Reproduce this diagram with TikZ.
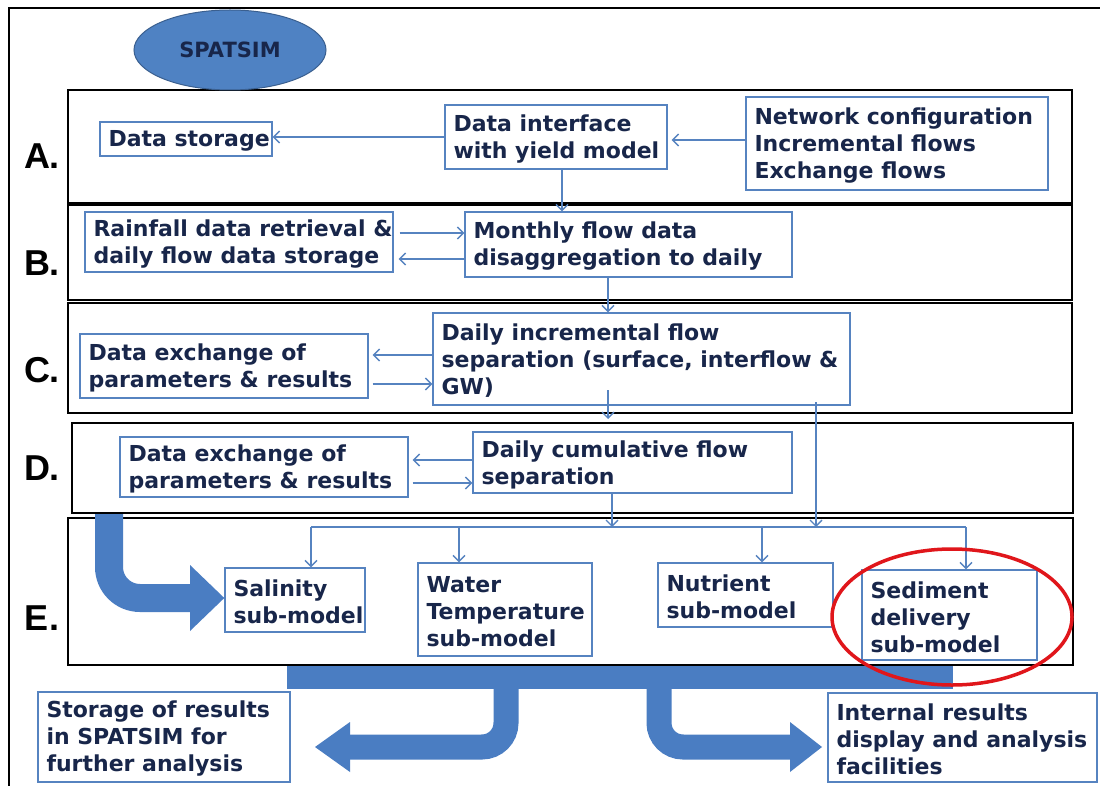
\documentclass[tikz,border=0pt]{standalone}
\usepackage{fontspec}
\setmainfont{DejaVu Sans}
\newfontfamily\labfont{Liberation Sans}
\usetikzlibrary{arrows.meta,shapes.geometric}
\definecolor{navy}{HTML}{18264A}
\definecolor{bborder}{HTML}{5683C0}
\definecolor{bfill}{HTML}{4A7DC2}
\definecolor{ellfill}{HTML}{4F82C3}
\definecolor{ellline}{HTML}{3A5F8F}
\definecolor{redc}{HTML}{E0161B}
\newcommand\mkbox[6]{%
  \pgfmathsetmacro\myBW{#4-#2}\pgfmathsetmacro\myBH{#5-#3}%
  \node[ibox, minimum width=\myBW pt, minimum height=\myBH pt] (#1) at ({(#2+#4)/2},{(#3+#5)/2}) {};
  \node[itext] (#1-t) at ([xshift=9pt,yshift=-2pt]#1.west) {#6};}
\begin{document}
\begin{tikzpicture}[x=1pt,y=-1pt,
  rowbox/.style={draw=black, line width=2.2pt},
  ibox/.style={draw=bborder, line width=1.4pt, inner sep=0pt, anchor=center},
  itext/.style={font=\fontsize{22}{27}\selectfont\bfseries, text=navy, align=left, inner sep=0pt, anchor=west},
  conn/.style={draw=bborder, line width=1.3pt, -{Straight Barb[length=6pt,width=12pt,line width=1.3pt]}},
  plain/.style={draw=bborder, line width=1.3pt},
  lab/.style={font=\labfont\fontsize{36}{36}\selectfont\bfseries, text=black, inner sep=0pt},
  fatline/.style={draw=bfill},
]
\useasboundingbox (0,0) rectangle (1107,786);
\fill[white] (0,0) rectangle (1107,786);
% outer frame
\draw[line width=2pt] (9,786) -- (9,8) -- (1100,8);

% rows
\draw[rowbox] (68,90) rectangle (1072,203);
\draw[rowbox] (68,205) rectangle (1072,300);
\draw[rowbox] (68,303) rectangle (1072,413);
\draw[rowbox] (72,423) rectangle (1073,513);
\draw[rowbox] (68,518) rectangle (1073,665);

% labels
\node[lab] (la) at (42,156) {A.};
\node[lab] (lb) at (42,263) {B.};
\node[lab] (lc) at (42,370) {C.};
\node[lab] (ld) at (42,468) {D.};
\node[lab] (le) at (42,618) {E.};

% SPATSIM
\node[ellipse, draw=ellline, line width=1pt, fill=ellfill, minimum width=192pt, minimum height=80pt, inner sep=0pt, text=navy, font=\fontsize{21}{27}\selectfont\bfseries] (spatsim) at (230,50) {SPATSIM};

% boxes
\mkbox{A1}{100}{122}{272}{156}{Data storage}
\mkbox{A2}{445}{105}{667}{169}{Data interface\\with yield model}
\mkbox{A3}{746}{97}{1048}{190}{Network configuration\\Incremental flows\\Exchange flows}
\mkbox{B1}{85}{212}{393}{272}{Rainfall data retrieval \&\\daily flow data storage}
\mkbox{B2}{465}{212}{792}{277}{Monthly flow data\\disaggregation to daily}
\mkbox{C1}{80}{334}{368}{398}{Data exchange of\\parameters \& results}
\mkbox{C2}{433}{313}{850}{405}{Daily incremental flow\\separation (surface, interflow \&\\GW)}
\mkbox{D1}{120}{437}{408}{497}{Data exchange of\\parameters \& results}
\mkbox{D2}{473}{432}{792}{493}{Daily cumulative flow\\separation}
\mkbox{E1}{225}{568}{365}{632}{Salinity\\sub-model}
\mkbox{E2}{418}{563}{592}{656}{Water\\Temperature\\sub-model}
\mkbox{E3}{658}{563}{833}{627}{Nutrient\\sub-model}
\mkbox{E4}{862}{570}{1037}{660}{Sediment\\delivery\\sub-model}
\mkbox{F1}{38}{692}{290}{782}{Storage of results\\in SPATSIM for\\further analysis}
\mkbox{F2}{828}{693}{1097}{782}{Internal results\\display and analysis\\facilities}

% connectors row A
\draw[conn] (A2.west) -- (A2.west -| A1.east);
\draw[conn, shorten >=4pt] (A3.west |- 0,140) -- (A2.east |- 0,140);
\draw[conn] (A2.south -| 562,0) -- (B2.north -| 562,0);
% row B
\draw[conn, shorten <=6pt] (B1.east |- 0,233) -- (B2.west |- 0,233);
\draw[conn, shorten >=5pt] (B2.west |- 0,259) -- (B1.east |- 0,259);
\draw[conn] (B2.south -| 608,0) -- (C2.north -| 608,0);
% row C
\draw[conn, shorten >=4pt] (C2.west |- 0,355) -- (C1.east |- 0,355);
\draw[conn, shorten <=4pt] (C1.east |- 0,384) -- (C2.west |- 0,384);
\coordinate (c2a) at (608,390);
\coordinate (c2b) at (608,419);
\draw[conn] (c2a) -- (c2b);
% row D
\draw[conn, shorten >=4pt] (D2.west |- 0,460) -- (D1.east |- 0,460);
\draw[conn, shorten <=4pt] (D1.east |- 0,483) -- (D2.west |- 0,483);

% distribution bus
\coordinate (busL) at (311,527);
\coordinate (bus2) at (459,527);
\coordinate (bus3) at (762,527);
\coordinate (busR) at (966,527);
\coordinate (cs1) at (816,402);
\draw[plain] (busL) -- (busR);
\draw[conn] (D2.south -| 612,0) -- (busL -| 612,0);
\draw[conn] (cs1) -- (cs1 |- busL);
\draw[conn] (busL) -- (busL |- E1.north);
\draw[conn] (bus2) -- (bus2 |- E2.north);
\draw[conn] (bus3) -- (bus3 |- E3.north);
\draw[conn] (busR) -- (busR |- E4.north);

% thick blue arrow D -> salinity
\draw[fatline, line width=28pt, rounded corners=31pt] (109,514) -- (109,598) -- (194,598);
\fill[bfill] (190,565) -- (E1.west |- 0,598) -- (190,631) -- cycle;

% bottom bar and arrows
\fill[bfill] (287,666) rectangle (953,689);
\draw[fatline, line width=25pt, rounded corners=24pt] (506,688) -- (506,747) -- (348,747);
\fill[bfill] (350,722) -- (315,747) -- (350,772) -- cycle;
\draw[fatline, line width=25pt, rounded corners=24pt] (659,688) -- (659,747) -- (792,747);
\fill[bfill] (790,722) -- (822,747) -- (790,772) -- cycle;

% red ellipse
\draw[redc, line width=3.5pt] (952,617) ellipse [x radius=120, y radius=68];
\end{tikzpicture}
\end{document}
